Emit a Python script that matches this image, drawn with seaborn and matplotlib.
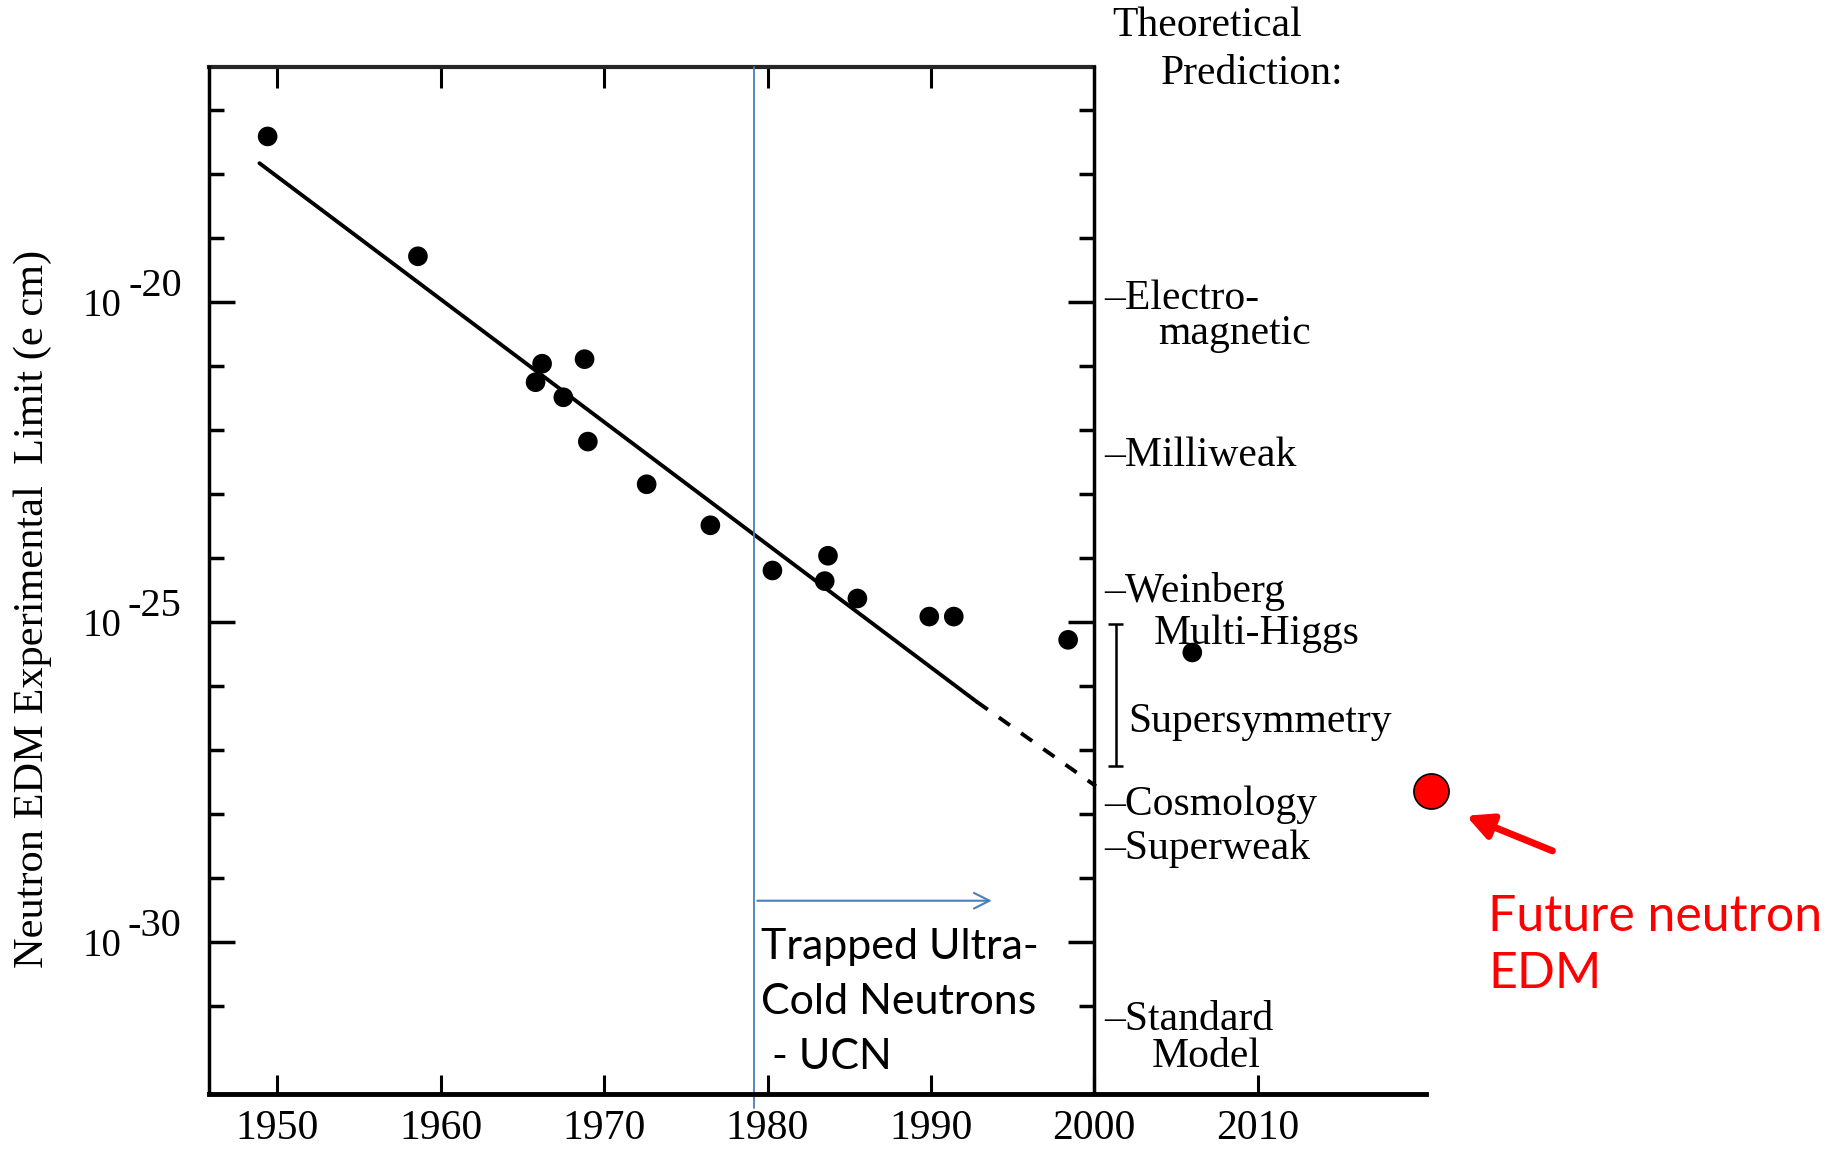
import matplotlib
matplotlib.use("Agg")
import matplotlib.pyplot as plt
import seaborn as sns
import pandas as pd

# ---------------- data ----------------
years = [1949.4, 1958.6, 1965.8, 1966.2, 1967.5, 1968.8, 1969.0, 1972.6, 1976.5,
         1980.3, 1983.7, 1983.5, 1985.5, 1989.9, 1991.4, 1998.4, 2006.0]
edm_limits = [3.8e-18, 5.1e-20, 5.5e-22, 1.07e-21, 3.2e-22, 1.26e-21, 6.5e-23,
              1.4e-23, 3.2e-24, 6.3e-25, 1.07e-24, 4.3e-25, 2.3e-25, 1.2e-25,
              1.2e-25, 5.2e-26, 3.3e-26]
trend_years = [1948.9, 1992.8]
trend_limits = [1.45e-18, 5.62e-27]
extrap_years = [1992.8, 2000.1]
extrap_limits = [5.62e-27, 2.69e-28]
future_year = [2020.6]
future_limit = [2.29e-28]
ucn_year = 1979.2
ucn_arrow_end = 1993.9
ucn_arrow_level = 4.37e-30

x_ticks = [1950, 1960, 1970, 1980, 1990, 2000, 2010]
x_ticks_top = [1950, 1960, 1970, 1980, 1990]
y_major = [1e-20, 1e-25, 1e-30]
y_exponents = ["-20", "-25", "-30"]
y_minor = [10.0 ** e for e in range(-31, -16) if e not in (-20, -25, -30)]

theory_names = ["\u2013Electro-", "magnetic", "\u2013Milliweak", "\u2013Weinberg",
                "Multi-Higgs", "Supersymmetry", "\u2013Cosmology", "\u2013Superweak",
                "\u2013Standard", "Model"]
theory_x = [2000.6, 2003.9, 2000.6, 2000.6, 2003.65, 2002.1, 2000.6, 2000.6, 2000.6, 2003.5]
theory_levels = [1.1e-20, 3.2e-21, 3.9e-23, 3.0e-25, 6.5e-26, 2.75e-27, 1.38e-28,
                 2.8e-29, 6.0e-32, 1.62e-32]
susy_range = [9.3e-26, 5.5e-28]
susy_x = 2001.3

df = pd.DataFrame({"year": years, "limit": edm_limits})

# ---------------- figure ----------------
sns.set_theme(style="white")
plt.rcParams["font.family"] = ["Liberation Serif", "DejaVu Serif"]

fig = plt.figure(figsize=(18.35, 11.49), dpi=100)
ax = fig.add_axes([0.1138, 0.0478, 0.6873, 0.8942])
ax.set_yscale("log")

sns.lineplot(x=trend_years, y=trend_limits, ax=ax, color="black", lw=2.8,
             estimator=None, legend=False)
sns.lineplot(x=extrap_years, y=extrap_limits, ax=ax, color="black", lw=2.8,
             estimator=None, legend=False, linestyle=(0, (3.5, 3.5)))
sns.scatterplot(data=df, x="year", y="limit", ax=ax, color="black", s=200,
                edgecolor="none", legend=False, zorder=5)
sns.scatterplot(x=future_year, y=future_limit, ax=ax, color="#ff0000", s=640,
                edgecolor="black", linewidth=1.2, legend=False, zorder=6,
                clip_on=False)

ax.set_xlim(1945.8, 2023)
ax.set_ylim(10 ** -32.38, 10 ** -16.33)

# UCN line and arrow
ax.axvline(ucn_year, ymin=-0.014, ymax=1, color="#4a7ebb", lw=1.3, clip_on=False)
ax.annotate("", xy=(ucn_arrow_end, ucn_arrow_level), xytext=(ucn_year, ucn_arrow_level),
            arrowprops=dict(arrowstyle="->", color="#4a7ebb", lw=1.5,
                            mutation_scale=28))

# spines
for side in ["left", "right", "bottom", "top"]:
    ax.spines[side].set_color("black")
ax.spines["left"].set_linewidth(2.5)
ax.spines["bottom"].set_linewidth(3.5)
ax.spines["right"].set_linewidth(2.5)
ax.spines["right"].set_position(("data", 2000))
ax.spines["bottom"].set_bounds(1945.8, 2020.3)
ax.spines["top"].set_visible(False)

# x ticks
ax.set_xticks(x_ticks)
ax.set_xticklabels([str(t) for t in x_ticks])
ax.tick_params(axis="x", which="major", direction="in", length=14, width=2.2,
               labelsize=30, pad=11, bottom=True, top=False, colors="black")
ax.xaxis.set_minor_locator(matplotlib.ticker.NullLocator())

# top axis (only over the main plot box)
secax = ax.secondary_xaxis("top")
secax.set_xticks(x_ticks_top)
secax.set_xticklabels([])
secax.tick_params(axis="x", direction="in", length=15, width=2.2, colors="black")
secax.spines["top"].set_linewidth(3.0)
secax.spines["top"].set_bounds(1945.8, 2000)

# y ticks
ax.set_yticks(y_major)
ax.set_yticklabels(["10"] * len(y_major))
ax.set_yticks(y_minor, minor=True)
ax.yaxis.set_minor_formatter(matplotlib.ticker.NullFormatter())
ax.tick_params(axis="y", which="major", direction="in", length=19, width=2.5,
               labelsize=28, pad=63, left=True, right=True, colors="black")
ax.tick_params(axis="y", which="minor", direction="in", length=11, width=2.5,
               left=True, right=True, colors="black")
for exp, val in zip(y_exponents, y_major):
    ax.annotate(exp, xy=(0, val), xycoords=ax.get_yaxis_transform(),
                xytext=(-19.5, 11), textcoords="offset points",
                ha="right", va="center", fontsize=29, color="black")

ax.set_ylabel("Neutron EDM Experimental  Limit (e cm)", fontsize=30.5,
              color="black", va="center")
ax.yaxis.set_label_coords(-0.1398, 0.4726)
ax.set_xlabel("")

# theoretical predictions
ax.text(2001.1, 10 ** -15.69, "Theoretical", fontsize=30, ha="left", va="center",
        color="black", clip_on=False)
ax.text(2004.1, 10 ** -16.44, "Prediction:", fontsize=30, ha="left", va="center",
        color="black", clip_on=False)
for name, xx, lvl in zip(theory_names, theory_x, theory_levels):
    ax.text(xx, lvl, name, fontsize=30, ha="left", va="center", color="black")
ax.vlines(susy_x, susy_range[1], susy_range[0], color="black", lw=1.8)
ax.hlines(susy_range, susy_x - 0.45, susy_x + 0.45, color="black", lw=1.8)

# UCN text
fig.text(0.4145, 0.128, "Trapped Ultra-\nCold Neutrons\n - UCN", fontsize=31,
         family=["Lato", "DejaVu Sans"], ha="left", va="center", linespacing=1.55,
         color="black")

# future neutron EDM
ax.annotate("", xy=(0.799, 0.290), xycoords="figure fraction",
            xytext=(0.846, 0.2595), textcoords="figure fraction",
            arrowprops=dict(arrowstyle="-|>", color="#ff0000", lw=5,
                            mutation_scale=38, shrinkA=0, shrinkB=0))
fig.text(0.811, 0.177, "Future neutron\nEDM", fontsize=36, color="#ff0000",
         family=["Lato", "DejaVu Sans"], ha="left", va="center", linespacing=1.3)

fig.savefig("out.png", dpi=100)
